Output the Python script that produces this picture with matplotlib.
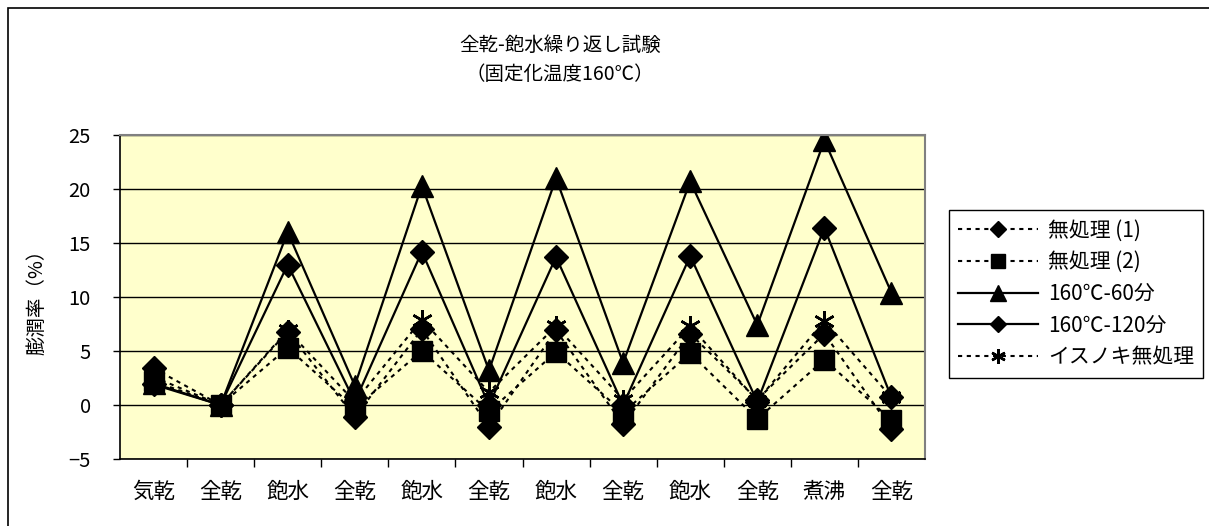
import matplotlib
matplotlib.use("Agg")
import matplotlib.pyplot as plt
from matplotlib.patches import Rectangle

plt.rcParams['font.family'] = ['Noto Sans CJK JP', 'DejaVu Sans']

stages = ["気乾", "全乾", "飽水", "全乾", "飽水", "全乾", "飽水", "全乾", "飽水", "全乾", "煮沸", "全乾"]

untreated1 = [3.4, 0.0, 6.8, -1.1, 7.0, -2.0, 6.9, -1.8, 6.6, 0.5, 6.6, -2.2]
untreated2 = [2.2, 0.0, 5.3, -0.3, 5.0, -0.6, 4.9, -0.7, 4.8, -1.3, 4.2, -1.4]
temp60 = [2.0, 0.0, 16.0, 1.8, 20.3, 3.2, 21.0, 3.9, 20.7, 7.4, 24.5, 10.4]
temp120 = [1.9, 0.0, 13.0, 0.3, 14.2, 0.0, 13.7, 0.0, 13.8, 0.3, 16.4, 0.7]
isunoki = [2.6, 0.0, 6.9, 0.3, 7.9, 1.2, 7.3, 0.5, 7.3, 0.4, 7.8, 0.7]

labels = ["無処理 (1)", "無処理 (2)", "160℃-60分", "160℃-120分", "イスノキ無処理"]

fig = plt.figure(figsize=(12.09, 5.26), dpi=100)
ax = fig.add_axes([120/1209, 1-459/526, 805/1209, 324/526])
ax.set_facecolor("#FFFFCC")

x = list(range(len(stages)))
dot = (0, (2, 2.2))
asterisk = (6, 2, 0)

ax.plot(x, untreated1, color="black", ls=dot, lw=1.5, marker="D", ms=12, label=labels[0])
ax.plot(x, untreated2, color="black", ls=dot, lw=1.5, marker="s", ms=14, label=labels[1])
ax.plot(x, temp60, color="black", ls="-", lw=1.6, marker="^", ms=16, label=labels[2])
ax.plot(x, temp120, color="black", ls="-", lw=1.6, marker="D", ms=12, label=labels[3])
ax.plot(x, isunoki, color="black", ls=dot, lw=1.5, marker=asterisk, ms=15, mew=1.8, label=labels[4])

ax.set_xlim(-0.5, len(stages) - 0.5)
ax.set_ylim(-5, 25)
ax.set_yticks(range(-5, 26, 5))
ax.set_xticks(x)
ax.set_xticklabels(stages, fontsize=15.5)
ax.set_xticks([i + 0.5 for i in range(len(stages) - 1)], minor=True)
ax.tick_params(axis="x", which="major", length=0, pad=16)
ax.tick_params(axis="x", which="minor", length=6, width=1, direction="out")
ax.tick_params(axis="y", length=5, width=1, direction="out", labelsize=14.5, pad=16)
ax.yaxis.grid(True, color="black", lw=1)
ax.set_axisbelow(True)

for side in ["top", "right"]:
    ax.spines[side].set_color("#808080")
    ax.spines[side].set_linewidth(1.5)
for side in ["left", "bottom"]:
    ax.spines[side].set_color("black")
    ax.spines[side].set_linewidth(1.2)

ax.set_ylabel("膨潤率（%）", fontsize=14)
ax.yaxis.set_label_coords((47 - 120) / 805, 0.5)

fig.text(560/1209, 1-45/526, "全乾-飽水繰り返し試験", ha="center", va="center", fontsize=14)
fig.text(560/1209, 1-75/526, "（固定化温度160℃）", ha="center", va="center", fontsize=14)

leg = ax.legend(loc="upper left", bbox_to_anchor=(949/1209, 1-210/526), bbox_transform=fig.transFigure,
                borderaxespad=0, fontsize=15, frameon=True, fancybox=False, edgecolor="black",
                framealpha=1, handlelength=3.8, labelspacing=0.47, borderpad=0.45, markerscale=0.7,
                handletextpad=0.5)
leg.get_frame().set_linewidth(1)

fig.patches.append(Rectangle((8/1209, -0.1), 1.2, 1 - 8/526 + 0.1, transform=fig.transFigure,
                             fill=False, edgecolor="black", lw=1.2))

fig.savefig("out.png", dpi=100)
